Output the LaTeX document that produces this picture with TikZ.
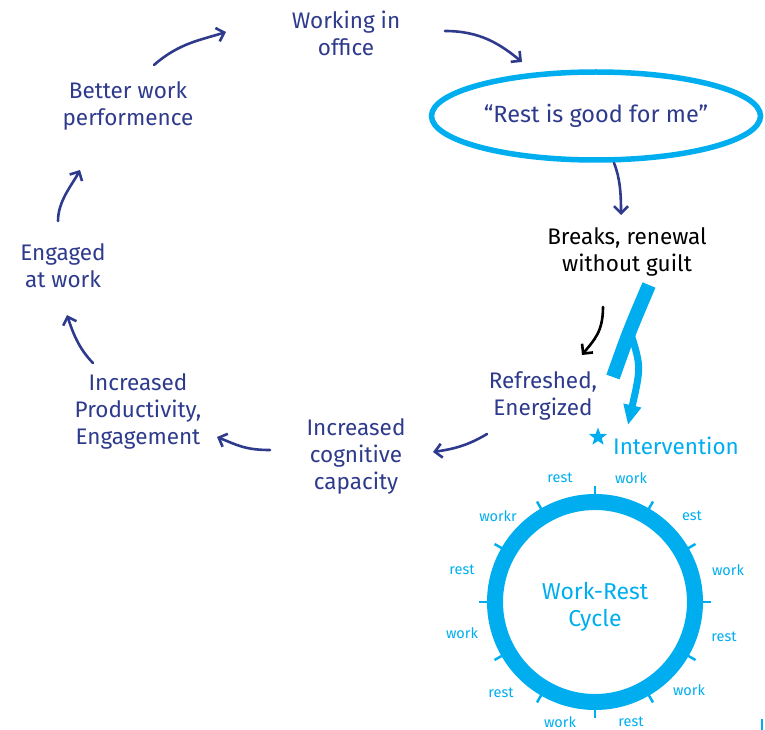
\documentclass[tikz,border=0pt]{standalone}
\usepackage{fontspec}
\setmainfont{Fira Sans}
\usetikzlibrary{arrows.meta,shapes.geometric,calc}
\definecolor{navy}{HTML}{2E3A8C}
\definecolor{sky}{HTML}{00AEEF}
\begin{document}
\begin{tikzpicture}[x=1pt,y=-1pt,
  step label/.style={text=navy,align=center,font=\fontsize{22.5}{27}\selectfont},
  flow/.style={draw=navy,line width=2.6pt,line cap=round,-{Straight Barb[length=7pt,width=14pt,line width=2.6pt]}},
  tick label/.style={text=sky,font=\fontsize{14.5}{16}\selectfont},
  cycle tick/.style={draw=sky,line width=2.5pt}]
\useasboundingbox (0,0) rectangle (765,730);

% main loop of outcomes
\node[step label] (office) at (346,33) {Working in\\office};
\node[step label] (better) at (128,106) {Better work\\performence};
\node[step label] (engaged) at (63,266) {Engaged\\at work};
\node[step label] (prod) at (138,411) {Increased\\Productivity,\\Engagement};
\node[step label] (cog) at (356,456) {Increased\\cognitive\\capacity};
\node[step label] (refr) at (543,396) {Refreshed,\\Energized};
\node[step label,text=black] (breaks) at (627,252) {Breaks, renewal\\without guilt};

% the belief, ringed
\node[draw=sky,line width=5.5pt,ellipse,minimum width=329pt,minimum height=88pt,
      step label,font=\fontsize{23.5}{27}\selectfont] (belief) at (596,116) {“Rest is good for me”};

% intervention marker
\node[star,star points=5,star point ratio=2.4,fill=sky,minimum size=19pt,inner sep=0pt] (star) at (598,437) {};
\node[text=sky,font=\fontsize{22.5}{27}\selectfont] (interv) at (676,446) {Intervention};

% connectors around the loop
\draw[flow] ($(office)+(99,-2)$) .. controls +(35,0) and +(-22,-18) .. ($(belief)+(-74,-54)$);
\draw[flow] ($(belief)+(18,47)$) .. controls +(6,15) and +(0,-22) .. ($(breaks)+(-6,-37)$);
\draw[flow,draw=black] ($(breaks)+(-24,55)$) .. controls +(0,25) and +(12,-15) .. ($(refr)+(39,-41)$);
\draw[flow] ($(refr)+(-56,38)$) .. controls +(-20,12) and +(20,-3) .. ($(cog)+(77,-4)$);
\draw[flow] ($(cog)+(-86,-6)$) .. controls +(-25,0) and +(20,8) .. ($(prod)+(79,26)$);
\draw[flow] ($(prod)+(-45,-48)$) .. controls +(-15,-15) and +(5,15) .. ($(engaged)+(4,49)$);
\draw[flow] ($(engaged)+(-5,-45)$) .. controls +(0,-20) and +(-8,15) .. ($(better)+(-48,64)$);
\draw[flow] ($(better)+(26,-41)$) .. controls +(25,-22) and +(-25,8) .. ($(office)+(-120,-1)$);

% the intervention stream
\coordinate (band top) at ($(breaks)+(22,33)$);
\coordinate (band split) at ($(breaks)+(4,82)$);
\draw[sky,line width=14pt] (band top) .. controls ($(breaks)+(2,80)$) .. ($(refr)+(70,-19)$);
\draw[sky,line width=7pt,-{Triangle[length=20pt,width=17pt]}]
  (band split) .. controls ($(breaks)+(14,115)$) .. ($(star)+(30,-12)$);

% work-rest cycle
\node[circle,draw=sky,line width=16pt,minimum size=200pt] (cycle) at (595,602) {};
\node[text=sky,align=center,font=\fontsize{23}{27}\selectfont] (cycle text) at (595,607) {Work-Rest\\Cycle};
\foreach \a in {0,30,...,330}
  \draw[cycle tick] ($(cycle.center)+(\a:107)$) -- ($(cycle.center)+(\a:116)$);

\node[tick label] (t1) at (560,478) {rest};
\node[tick label] (t2) at (631,478) {work};
\node[tick label] (t3) at (692,516) {est};
\node[tick label] (t4) at (728,570) {work};
\node[tick label] (t5) at (724,637) {rest};
\node[tick label] (t6) at (689,690) {work};
\node[tick label] (t7) at (631,722) {rest};
\node[tick label] (t8) at (560,722) {work};
\node[tick label] (t9) at (501,693) {rest};
\node[tick label] (t10) at (462,633) {work};
\node[tick label] (t11) at (462,570) {rest};
\node[tick label] (t12) at (498,516) {workr};

\coordinate (edge mark) at (762,719);
\draw[sky,line width=1.2pt] (edge mark) -- +(0,11);
\end{tikzpicture}
\end{document}
